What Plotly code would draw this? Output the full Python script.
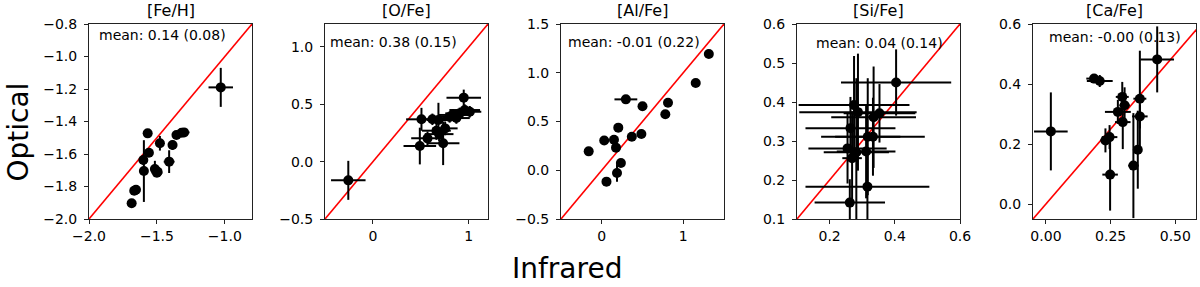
import plotly.graph_objects as go

# ---------------- data ----------------
panel_titles = ["[Fe/H]", "[O/Fe]", "[Al/Fe]", "[Si/Fe]", "[Ca/Fe]"]
mean_labels = ["mean: 0.14 (0.08)", "mean: 0.38 (0.15)", "mean: -0.01 (0.22)",
               "mean: 0.04 (0.14)", "mean: -0.00 (0.13)"]

fe_ir = [-1.03, -1.568, -1.478, -1.385, -1.356, -1.318, -1.30, -1.559, -1.60, -1.596,
         -1.515, -1.495, -1.41, -1.667, -1.686, -1.654, -1.50]
fe_opt = [-1.19, -1.473, -1.534, -1.545, -1.483, -1.469, -1.467, -1.592, -1.637, -1.705,
          -1.692, -1.709, -1.647, -1.826, -1.903, -1.82, -1.715]
fe_ir_err = [0.09, 0.02, 0.02, 0.02, 0.02, 0.02, 0.04, 0.02, 0.02, 0.02,
             0.02, 0.02, 0.04, 0.03, 0.02, 0.02, 0.04]
fe_opt_err = [0.12, 0.02, 0.045, 0.03, 0.02, 0.02, 0.02, 0.02, 0.03, 0.19,
              0.05, 0.02, 0.07, 0.02, 0.02, 0.02, 0.02]

o_ir = [-0.257, 0.947, 0.506, 0.62, 0.683, 0.489, 0.569, 0.732, 0.662, 0.753,
        0.69, 0.836, 0.905, 0.957, 0.87, 0.80, 1.01]
o_opt = [-0.163, 0.558, 0.369, 0.369, 0.363, 0.136, 0.203, 0.16, 0.27, 0.29,
         0.24, 0.407, 0.421, 0.45, 0.38, 0.39, 0.435]
o_ir_err = [0.18, 0.18, 0.16, 0.12, 0.12, 0.17, 0.17, 0.17, 0.15, 0.13,
            0.15, 0.15, 0.15, 0.16, 0.14, 0.14, 0.12]
o_opt_err = [0.17, 0.07, 0.10, 0.05, 0.15, 0.16, 0.06, 0.19, 0.08, 0.06,
             0.06, 0.05, 0.05, 0.05, 0.05, 0.05, 0.05]

al_ir = [1.314, 1.153, 0.813, 0.78, 0.50, 0.296, 0.486, 0.369, 0.203, 0.03,
         0.15, 0.175, -0.16, 0.235, 0.187, 0.058]
al_opt = [1.192, 0.895, 0.693, 0.574, 0.656, 0.727, 0.371, 0.344, 0.437, 0.306,
          0.313, 0.232, 0.194, 0.074, -0.028, -0.117]
al_ir_err = [0.02, 0.02, 0.02, 0.02, 0.02, 0.14, 0.02, 0.02, 0.02, 0.02,
             0.02, 0.02, 0.02, 0.02, 0.02, 0.02]
al_opt_err = [0.02, 0.02, 0.02, 0.02, 0.02, 0.02, 0.02, 0.02, 0.02, 0.02,
              0.02, 0.02, 0.02, 0.02, 0.09, 0.02]

si_ir = [0.404, 0.275, 0.287, 0.335, 0.353, 0.264, 0.317, 0.333, 0.255, 0.282,
         0.312, 0.269, 0.316, 0.262]
si_opt = [0.45, 0.392, 0.374, 0.361, 0.371, 0.333, 0.311, 0.311, 0.281, 0.271,
          0.273, 0.256, 0.183, 0.142]
si_ir_err = [0.169, 0.17, 0.18, 0.13, 0.11, 0.138, 0.10, 0.159, 0.12, 0.10,
             0.09, 0.03, 0.19, 0.108]
si_opt_err = [0.085, 0.126, 0.15, 0.13, 0.075, 0.08, 0.15, 0.10, 0.09, 0.19,
              0.12, 0.12, 0.09, 0.06]

ca_ir = [0.43, 0.019, 0.186, 0.208, 0.295, 0.304, 0.278, 0.297, 0.363, 0.363,
         0.355, 0.338, 0.246, 0.23, 0.248]
ca_opt = [0.482, 0.242, 0.418, 0.41, 0.357, 0.329, 0.307, 0.273, 0.351, 0.292,
          0.181, 0.128, 0.223, 0.212, 0.098]
ca_ir_err = [0.065, 0.065, 0.03, 0.05, 0.025, 0.02, 0.05, 0.03, 0.025, 0.03,
             0.01, 0.02, 0.03, 0.02, 0.03]
ca_opt_err = [0.11, 0.13, 0.015, 0.02, 0.05, 0.06, 0.04, 0.09, 0.16, 0.04,
              0.13, 0.175, 0.04, 0.04, 0.12]

x_ranges = [[-2.0, -0.8], [-0.5, 1.2], [-0.5, 1.5], [0.1, 0.6], [-0.05, 0.58]]
y_ranges = [[-2.0, -0.8], [-0.5, 1.2], [-0.5, 1.5], [0.1, 0.6], [-0.05, 0.6]]
x_ticks = [[-2.0, -1.5, -1.0], [0, 1], [0, 1], [0.2, 0.4, 0.6], [0.0, 0.25, 0.5]]
x_fmt = [".1f", "d", "d", ".1f", ".2f"]
y_ticks = [[-2.0, -1.8, -1.6, -1.4, -1.2, -1.0, -0.8], [-0.5, 0.0, 0.5, 1.0],
           [-0.5, 0.0, 0.5, 1.0, 1.5], [0.1, 0.2, 0.3, 0.4, 0.5, 0.6],
           [0.0, 0.2, 0.4, 0.6]]
y_fmt = [".1f", ".1f", ".1f", ".1f", ".1f"]

panels = [
    (fe_ir, fe_opt, fe_ir_err, fe_opt_err),
    (o_ir, o_opt, o_ir_err, o_opt_err),
    (al_ir, al_opt, al_ir_err, al_opt_err),
    (si_ir, si_opt, si_ir_err, si_opt_err),
    (ca_ir, ca_opt, ca_ir_err, ca_opt_err),
]

# ---------------- layout geometry (pixels) ----------------
W, H = 1200, 287
panel_left = [89, 325, 561, 797, 1033]
panel_w = 163
plot_top, plot_bottom = 24, 219
mean_pos = [(97, 35), (328, 42), (566, 42), (814, 43), (1047, 37)]

def px(x):
    return x / W

def py(y):
    return 1 - y / H

FONT = "DejaVu Sans"
fig = go.Figure()
annotations = []
layout_axes = {}

for i, (xs, ys, xe, ye) in enumerate(panels):
    n = "" if i == 0 else str(i + 1)
    xa, ya = "x" + n, "y" + n
    lo = max(x_ranges[i][0], y_ranges[i][0])
    hi = y_ranges[i][1]
    fig.add_trace(go.Scatter(x=[lo, hi], y=[lo, hi], mode="lines",
                             line=dict(color="#ff0000", width=1.6),
                             xaxis=xa, yaxis=ya, showlegend=False, hoverinfo="skip"))
    fig.add_trace(go.Scatter(
        x=xs, y=ys, mode="markers",
        marker=dict(color="black", size=10),
        error_x=dict(type="data", array=xe, color="black", thickness=2, width=0),
        error_y=dict(type="data", array=ye, color="black", thickness=2, width=0),
        xaxis=xa, yaxis=ya, showlegend=False))

    common = dict(showline=True, mirror=True, linecolor="#222", linewidth=1,
                  ticks="outside", ticklen=4, tickwidth=1, tickcolor="#222",
                  showgrid=False, zeroline=False, automargin=False,
                  tickfont=dict(family=FONT, size=14, color="black"))
    layout_axes["xaxis" + n] = dict(
        common, domain=[px(panel_left[i]), px(panel_left[i] + panel_w)],
        range=x_ranges[i], tickvals=x_ticks[i], tickformat=x_fmt[i], anchor=ya)
    layout_axes["yaxis" + n] = dict(
        common, domain=[py(plot_bottom), py(plot_top)],
        range=y_ranges[i], tickvals=y_ticks[i], tickformat=y_fmt[i], anchor=xa,
        ticklabelstandoff=4)

    annotations.append(dict(text=panel_titles[i], x=px(panel_left[i] + panel_w / 2),
                            y=py(10.5), xref="paper", yref="paper", showarrow=False,
                            xanchor="center", yanchor="middle",
                            font=dict(family=FONT, size=16, color="black")))
    annotations.append(dict(text=mean_labels[i], x=px(mean_pos[i][0]), y=py(mean_pos[i][1]),
                            xref="paper", yref="paper", showarrow=False,
                            xanchor="left", yanchor="middle",
                            font=dict(family=FONT, size=14, color="black")))

annotations.append(dict(text="Optical", x=0, y=py(132), xref="paper", yref="paper",
                        showarrow=False, textangle=-90, xanchor="left", yanchor="middle",
                        borderpad=0,
                        font=dict(family=FONT, size=28, color="black")))
annotations.append(dict(text="Infrared", x=px(567), y=0, xref="paper", yref="paper",
                        showarrow=False, xanchor="center", yanchor="bottom",
                        font=dict(family=FONT, size=28, color="black")))

fig.update_layout(width=W, height=H, margin=dict(l=0, r=0, t=0, b=0),
                  paper_bgcolor="white", plot_bgcolor="white",
                  annotations=annotations, **layout_axes)

fig.write_html("out.html", config={"displayModeBar": False},
               post_script="document.body.style.margin='0';document.body.style.overflow='hidden';")
